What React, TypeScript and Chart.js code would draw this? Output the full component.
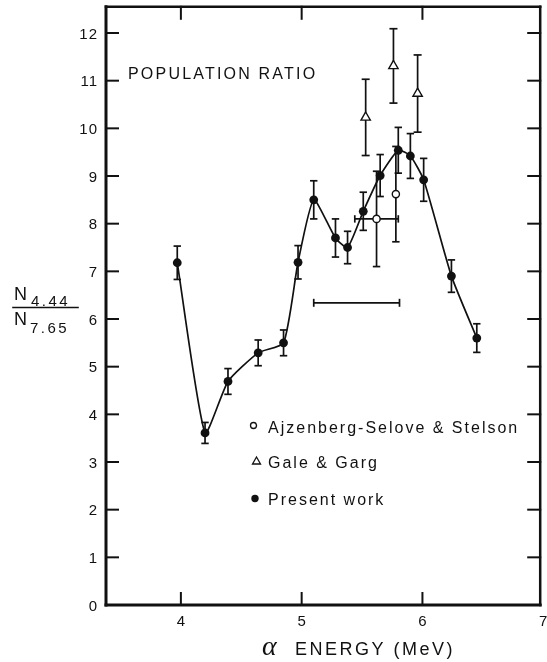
import React, { useEffect, useRef } from "react";
import { Chart, registerables } from "chart.js";

Chart.register(...registerables);

// Present work: alpha energy (MeV), population ratio and its uncertainty
const presentEnergy = [3.97, 4.2, 4.39, 4.64, 4.85, 4.97, 5.1, 5.28, 5.38, 5.51, 5.65, 5.8, 5.9, 6.01, 6.24, 6.45];
const presentRatio = [7.18, 3.61, 4.69, 5.29, 5.5, 7.19, 8.5, 7.7, 7.5, 8.26, 9.01, 9.54, 9.42, 8.92, 6.9, 5.6];
const presentErr = [0.35, 0.22, 0.27, 0.27, 0.27, 0.35, 0.4, 0.4, 0.34, 0.4, 0.44, 0.48, 0.47, 0.45, 0.34, 0.3];

// Ajzenberg-Selove & Stelson
const ajzEnergy = [5.62, 5.78];
const ajzRatio = [8.1, 8.62];
const ajzErr = [1.0, 1.0];
const ajzEnergyErr = [0.18, 0];

// Gale & Garg
const galeEnergy = [5.53, 5.76, 5.96];
const galeRatio = [10.23, 11.31, 10.73];
const galeErr = [0.8, 0.78, 0.81];

// Energy resolution bar
const resolutionFrom = 5.1;
const resolutionTo = 5.81;
const resolutionLevel = 6.34;

const xTicks = [4, 5, 6, 7];
const yTicks = [0, 1, 2, 3, 4, 5, 6, 7, 8, 9, 10, 11, 12];

const X_MIN = 3.38;
const X_MAX = 6.975;
const Y_MIN = 0;
const Y_MAX = 12.55;

const INK = "#111";
const SANS = '"Liberation Sans", Arial, sans-serif';

const pts = (xs: number[], ys: number[]) => xs.map((x, i) => ({ x, y: ys[i] }));

const decorPlugin = {
  id: "decor",
  beforeDatasetsDraw(chart: any) {
    const { ctx, scales } = chart;
    const x = scales.x;
    const y = scales.y;
    ctx.save();
    ctx.strokeStyle = INK;
    ctx.lineWidth = 1.7;
    const seg = (x1: number, y1: number, x2: number, y2: number) => {
      ctx.beginPath();
      ctx.moveTo(x1, y1);
      ctx.lineTo(x2, y2);
      ctx.stroke();
    };
    const vbar = (ex: number, ey: number, err: number, cap: number) => {
      const px = x.getPixelForValue(ex);
      const t = y.getPixelForValue(ey + err);
      const b = y.getPixelForValue(ey - err);
      seg(px, t, px, b);
      seg(px - cap, t, px + cap, t);
      seg(px - cap, b, px + cap, b);
    };
    const hbar = (x1v: number, x2v: number, yv: number, cap: number) => {
      const py = y.getPixelForValue(yv);
      const l = x.getPixelForValue(x1v);
      const r = x.getPixelForValue(x2v);
      seg(l, py, r, py);
      seg(l, py - cap, l, py + cap);
      seg(r, py - cap, r, py + cap);
    };
    presentEnergy.forEach((e, i) => vbar(e, presentRatio[i], presentErr[i], 3.7));
    galeEnergy.forEach((e, i) => vbar(e, galeRatio[i], galeErr[i], 4));
    ajzEnergy.forEach((e, i) => {
      vbar(e, ajzRatio[i], ajzErr[i], 3.7);
      if (ajzEnergyErr[i] > 0) hbar(e - ajzEnergyErr[i], e + ajzEnergyErr[i], ajzRatio[i], 3.7);
    });
    hbar(resolutionFrom, resolutionTo, resolutionLevel, 4);
    ctx.restore();
  },
  afterDraw(chart: any) {
    const { ctx, scales, chartArea } = chart;
    const x = scales.x;
    const y = scales.y;
    const { left, right, top, bottom } = chartArea;
    ctx.save();
    ctx.strokeStyle = INK;
    ctx.fillStyle = INK;
    ctx.lineCap = "square";
    const seg = (x1: number, y1: number, x2: number, y2: number, w: number) => {
      ctx.lineWidth = w;
      ctx.beginPath();
      ctx.moveTo(x1, y1);
      ctx.lineTo(x2, y2);
      ctx.stroke();
    };
    // frame
    seg(left, top, right, top, 2.5);
    seg(right, top, right, bottom, 2.5);
    seg(left, top, left, bottom, 3);
    seg(left, bottom, right, bottom, 3);

    // inward ticks
    yTicks.forEach((v) => {
      if (v === 0) return;
      const py = y.getPixelForValue(v);
      seg(left, py, left + 12, py, 2);
      seg(right, py, right - 12, py, 2);
    });
    xTicks.forEach((v) => {
      if (v >= X_MAX) return;
      const px = x.getPixelForValue(v);
      seg(px, bottom, px, bottom - 12, 2);
      seg(px, top, px, top + 12, 2);
    });

    // tick labels
    ctx.font = `15px ${SANS}`;
    ctx.textBaseline = "alphabetic";
    ctx.textAlign = "right";
    (ctx as any).letterSpacing = "1px";
    yTicks.forEach((v) => {
      ctx.fillText(String(v), left - 8, y.getPixelForValue(v) + 5.5);
    });
    (ctx as any).letterSpacing = "0px";
    ctx.textAlign = "center";
    xTicks.forEach((v) => {
      ctx.fillText(String(v), x.getPixelForValue(v), bottom + 20.5);
    });

    // x-axis title
    ctx.textAlign = "left";
    ctx.font = `italic 28px "Liberation Serif", serif`;
    ctx.fillText("α", 262, 655);
    ctx.font = `18px ${SANS}`;
    (ctx as any).letterSpacing = "2.5px";
    ctx.fillText("ENERGY (MeV)", 295, 655);

    // panel title
    ctx.font = `16px ${SANS}`;
    (ctx as any).letterSpacing = "2.2px";
    ctx.fillText("POPULATION RATIO", 128, 79);

    // legend
    ctx.font = `16px ${SANS}`;
    (ctx as any).letterSpacing = "2px";
    ctx.fillText("Ajzenberg-Selove & Stelson", 268, 432.7);
    ctx.fillText("Gale & Garg", 268, 468.3);
    ctx.fillText("Present work", 268, 505);
    (ctx as any).letterSpacing = "0px";

    ctx.lineWidth = 1.3;
    ctx.beginPath();
    ctx.arc(253.5, 425.5, 3, 0, Math.PI * 2);
    ctx.stroke();
    ctx.beginPath();
    ctx.moveTo(256.5, 457);
    ctx.lineTo(260.5, 464);
    ctx.lineTo(252.5, 464);
    ctx.closePath();
    ctx.stroke();
    ctx.beginPath();
    ctx.arc(255, 498.5, 3.7, 0, Math.PI * 2);
    ctx.fill();

    // y-axis title: N(4.44) / N(7.65)
    ctx.textAlign = "left";
    ctx.font = `18px ${SANS}`;
    ctx.fillText("N", 14, 299.5);
    ctx.fillText("N", 14, 324.5);
    ctx.font = `15px ${SANS}`;
    (ctx as any).letterSpacing = "2.5px";
    ctx.fillText("4.44", 31, 305.5);
    ctx.fillText("7.65", 30, 332.5);
    (ctx as any).letterSpacing = "0px";
    seg(13, 307.5, 78, 307.5, 1.6);

    ctx.restore();
  },
};

export default function App() {
  const canvasRef = useRef<HTMLCanvasElement | null>(null);

  useEffect(() => {
    const canvas = canvasRef.current;
    if (!canvas) return;
    const chart = new Chart(canvas, {
      type: "scatter",
      data: {
        datasets: [
          {
            label: "Present work",
            data: pts(presentEnergy, presentRatio),
            showLine: true,
            borderColor: INK,
            borderWidth: 1.7,
            tension: 0.18,
            pointRadius: 4.4,
            pointBackgroundColor: INK,
            pointBorderColor: INK,
            pointBorderWidth: 0,
            order: 3,
          },
          {
            label: "Gale & Garg",
            data: pts(galeEnergy, galeRatio),
            showLine: false,
            pointStyle: "triangle",
            pointRadius: 5.4,
            pointBackgroundColor: "#fff",
            pointBorderColor: INK,
            pointBorderWidth: 1.4,
            order: 2,
          },
          {
            label: "Ajzenberg-Selove & Stelson",
            data: pts(ajzEnergy, ajzRatio),
            showLine: false,
            pointRadius: 3.6,
            pointBackgroundColor: "#fff",
            pointBorderColor: INK,
            pointBorderWidth: 1.4,
            order: 1,
          },
        ],
      },
      options: {
        responsive: false,
        animation: false,
        layout: { padding: { left: 106, right: 3, top: 6, bottom: 57 } },
        plugins: { legend: { display: false }, tooltip: { enabled: false } },
        scales: {
          x: { type: "linear", min: X_MIN, max: X_MAX, display: false },
          y: { type: "linear", min: Y_MIN, max: Y_MAX, display: false },
        },
      },
      plugins: [decorPlugin],
    });
    return () => chart.destroy();
  }, []);

  return (
    <div style={{ position: "absolute", left: 0, top: 0, width: 547, height: 662, background: "#fff" }}>
      <canvas ref={canvasRef} width={547} height={662} style={{ display: "block" }} />
    </div>
  );
}
